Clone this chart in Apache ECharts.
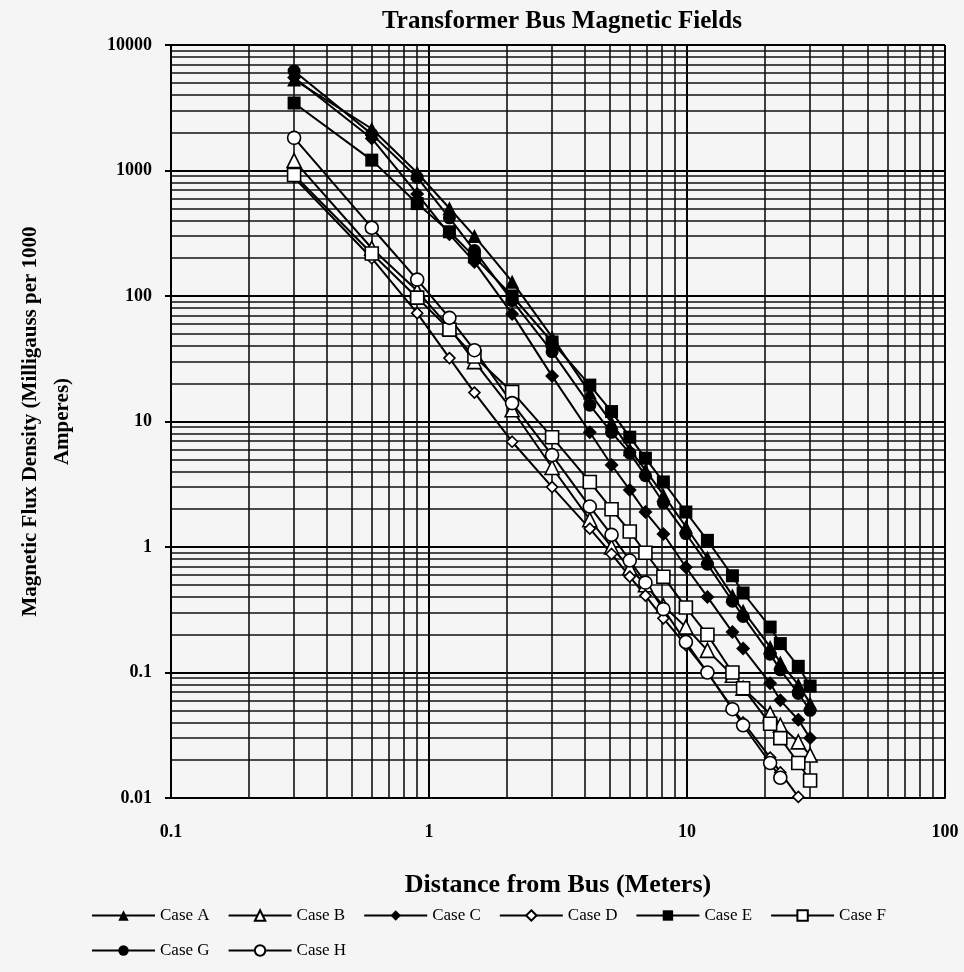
<!DOCTYPE html>
<html>
<head>
<meta charset="utf-8">
<script src="https://cdn.jsdelivr.net/npm/echarts@6/dist/echarts.min.js"></script>
<style>
  html, body { margin: 0; padding: 0; background: #f5f5f5; }
  #chart { width: 964px; height: 972px; }
</style>
</head>
<body>
<div id="chart"></div>
<script>
// distance from bus, meters
var xDist = [0.3, 0.6, 0.9, 1.2, 1.5, 2.1, 3.0, 4.2, 5.1, 6.0, 6.9, 8.1, 9.9, 12, 15, 16.5, 21, 23, 27, 30];

// milligauss per 1000 A (null = not plotted)
var caseA = [5300, 2150, 960, 500, 300, 130, 47, 17, 9.8, 6.0, 4.1, 2.6, 1.45, 0.82, 0.41, 0.31, 0.16, 0.12, 0.08, 0.057];
var caseB = [1200, 240, 110, 56, 30, 12.4, 4.3, 1.65, 1.0, 0.68, 0.5, 0.34, 0.23, 0.15, 0.095, 0.075, 0.047, 0.038, 0.028, 0.022];
var caseC = [5500, 1800, 650, 310, 187, 72, 23, 8.2, 4.5, 2.85, 1.9, 1.27, 0.69, 0.4, 0.21, 0.155, 0.082, 0.06, 0.042, 0.03];
var caseD = [880, 200, 73, 32, 17, 6.9, 3.0, 1.4, 0.88, 0.58, 0.41, 0.27, 0.165, 0.1, 0.052, 0.04, 0.021, 0.016, 0.0102, null];
var caseE = [3450, 1210, 545, 325, 205, 100, 43, 19.5, 12, 7.5, 5.1, 3.3, 1.9, 1.13, 0.59, 0.43, 0.23, 0.17, 0.112, 0.078];
var caseF = [920, 218, 97, 54, 33, 17.2, 7.5, 3.3, 2.0, 1.33, 0.9, 0.58, 0.33, 0.2, 0.1, 0.075, 0.039, 0.03, 0.019, 0.0138];
var caseG = [6200, 1950, 880, 420, 230, 92, 36, 13.5, 8.2, 5.6, 3.7, 2.25, 1.28, 0.73, 0.37, 0.28, 0.14, 0.105, 0.068, 0.05];
var caseH = [1820, 350, 135, 67, 37, 14, 5.4, 2.1, 1.25, 0.78, 0.52, 0.32, 0.175, 0.1, 0.051, 0.038, 0.019, 0.0145, null, null];

var seriesNames = ["Case A", "Case B", "Case C", "Case D", "Case E", "Case F", "Case G", "Case H"];

// log grid helpers
var xDecades = [0.1, 1, 10];
var yDecades = [0.01, 0.1, 1, 10, 100, 1000];
var minorSteps = [2, 3, 4, 5, 6, 7, 8, 9];

function pairs(arr) {
  var out = [];
  arr.forEach(function (v, i) {
    if (v != null) out.push([xDist[i], v]);
  });
  return out;
}

var minorLines = [];
xDecades.forEach(function (d) {
  minorSteps.forEach(function (k) { minorLines.push({ xAxis: +(k * d).toPrecision(3) }); });
});
yDecades.forEach(function (d) {
  minorSteps.forEach(function (k) { minorLines.push({ yAxis: +(k * d).toPrecision(3) }); });
});

var chart = echarts.init(document.getElementById("chart"));

function mk(name, data, symbol, size, filled) {
  return {
    name: name,
    type: "line",
    data: pairs(data),
    symbol: symbol,
    symbolSize: size,
    showAllSymbol: true,
    z: 5,
    lineStyle: { color: "#000", width: 2 },
    itemStyle: {
      color: filled ? "#000" : "#fff",
      borderColor: "#000",
      borderWidth: filled ? 0 : 1.6
    }
  };
}

var serif = "Liberation Serif";

var option = {
  backgroundColor: "#f5f5f5",
  animation: false,
  title: {
    text: "Transformer Bus Magnetic Fields",
    left: 557,
    textAlign: "center",
    top: 4,
    textStyle: { fontFamily: serif, fontWeight: "bold", fontSize: 25, color: "#000" }
  },
  legend: {
    data: seriesNames,
    left: 86,
    top: 902,
    width: 830,
    itemWidth: 63,
    itemHeight: 13,
    itemGap: 18,
    textStyle: { fontFamily: serif, fontSize: 17, color: "#000" }
  },
  grid: { left: 171, right: 19, top: 45, bottom: 174, outerBoundsMode: "none" },
  xAxis: {
    type: "log",
    logBase: 10,
    min: 0.1,
    max: 100,
    name: "Distance from Bus (Meters)",
    nameLocation: "middle",
    nameGap: 74,
    nameTextStyle: { fontFamily: serif, fontWeight: "bold", fontSize: 26, color: "#000" },
    axisLine: { lineStyle: { color: "#000", width: 2 } },
    axisTick: { show: false },
    axisLabel: {
      margin: 25,
      fontFamily: serif, fontWeight: "bold", fontSize: 18, color: "#000",
      formatter: function (v) { return String(v); }
    },
    splitLine: { show: true, lineStyle: { color: "#000", width: 2 } }
  },
  yAxis: {
    type: "log",
    logBase: 10,
    min: 0.01,
    max: 10000,
    name: "Magnetic Flux Density (Milligauss per 1000\nAmperes)",
    nameLocation: "middle",
    nameRotate: 90,
    nameGap: 92,
    nameTextStyle: { fontFamily: serif, fontWeight: "bold", fontSize: 21, color: "#000", lineHeight: 32 },
    axisLine: { lineStyle: { color: "#000", width: 2 } },
    axisTick: { show: true, length: 6, lineStyle: { color: "#000", width: 2 } },
    axisLabel: {
      margin: 19,
      fontFamily: serif, fontWeight: "bold", fontSize: 18, color: "#000",
      formatter: function (v) { return String(v); }
    },
    splitLine: { show: true, lineStyle: { color: "#000", width: 2 } }
  },
  series: [
    {
      name: "grid",
      type: "line",
      data: [[1, 1]],
      symbol: "none",
      lineStyle: { opacity: 0 },
      silent: true,
      z: 1,
      markLine: {
        silent: true,
        symbol: "none",
        label: { show: false },
        lineStyle: { color: "#111", width: 1.6, type: "solid" },
        data: minorLines,
        animation: false
      }
    },
    mk("Case A", caseA, "triangle", 14, true),
    mk("Case B", caseB, "triangle", 14, false),
    mk("Case C", caseC, "diamond", 14, true),
    mk("Case D", caseD, "diamond", 11, false),
    mk("Case E", caseE, "rect", 13, true),
    mk("Case F", caseF, "rect", 13, false),
    mk("Case G", caseG, "circle", 13, true),
    mk("Case H", caseH, "circle", 13, false)
  ]
};

chart.setOption(option);
</script>
</body>
</html>
